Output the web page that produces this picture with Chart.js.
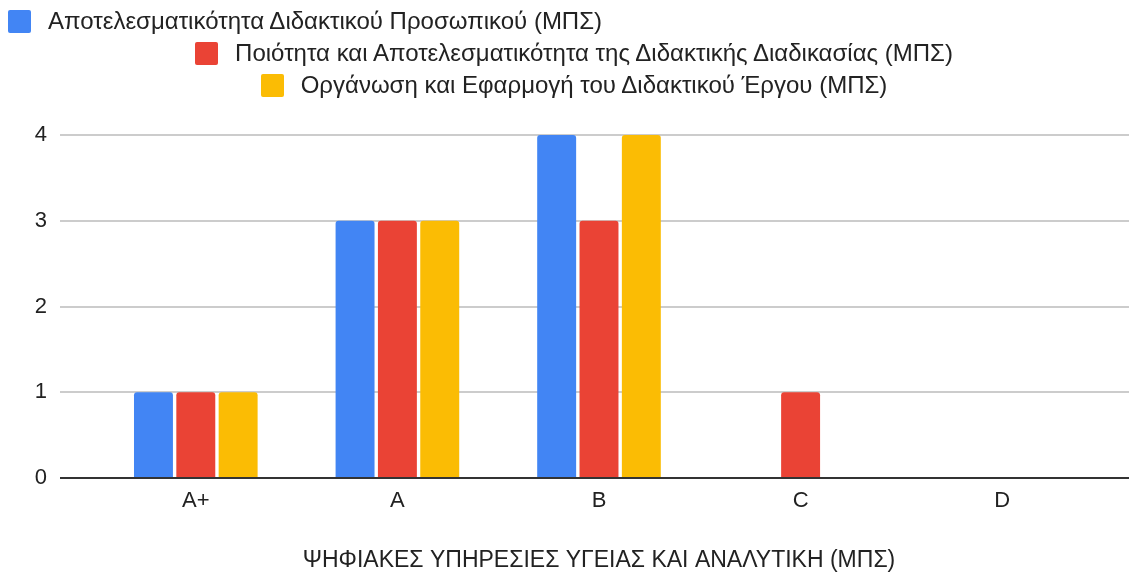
<!DOCTYPE html>
<html>
<head>
<meta charset="utf-8">
<script src="https://cdn.jsdelivr.net/npm/chart.js@4.4.1/dist/chart.umd.min.js"></script>
<style>
  html,body{margin:0;padding:0;background:#fff;}
  #wrap{position:relative;width:1129px;height:574px;overflow:hidden;}
  #chart{position:absolute;left:0;top:0;}
  #legend{position:absolute;left:0;top:0;padding-top:5px;width:1148px;font-family:"Liberation Sans",Arial,sans-serif;font-size:24px;color:#222;}
  .lg-row{height:32px;line-height:32px;white-space:nowrap;text-align:center;}
  .lg-row.first{text-align:left;padding-left:8px;}
  .lg-box{display:inline-block;width:23px;height:23px;border-radius:2px;vertical-align:-4px;margin-right:17px;}
</style>
</head>
<body>
<div id="wrap">
  <canvas id="chart" width="1129" height="574"></canvas>
  <div id="legend"></div>
</div>
<script>
/* ============ DATA ============ */
const categories = ['A+','A','B','C','D'];
const seriesNames = [
  'Αποτελεσματικότητα Διδακτικού Προσωπικού (ΜΠΣ)',
  'Ποιότητα και Αποτελεσματικότητα της Διδακτικής Διαδικασίας (ΜΠΣ)',
  'Οργάνωση και Εφαρμογή του Διδακτικού Έργου (ΜΠΣ)'
];
const staffValues   = [1,3,4,0,0];
const processValues = [1,3,3,1,0];
const workValues    = [1,3,4,0,0];
const yTicks = [0,1,2,3,4];
const xAxisTitle = 'ΨΗΦΙΑΚΕΣ ΥΠΗΡΕΣΙΕΣ ΥΓΕΙΑΣ ΚΑΙ ΑΝΑΛΥΤΙΚΗ (ΜΠΣ)';
const colors = ['#4285F4','#EA4335','#FBBC04'];

/* gridlines kéo dài ra ngoài chartArea như Google Sheets */
const wideGrid = {
  id:'wideGrid',
  beforeDatasetsDraw(chart){
    const {ctx, scales:{y}} = chart;
    ctx.save();
    y.ticks.forEach(t=>{
      if(t.value===0) return;
      const py = Math.round(y.getPixelForValue(t.value));
      ctx.strokeStyle='#cccccc'; ctx.lineWidth=2;
      ctx.beginPath(); ctx.moveTo(60,py); ctx.lineTo(chart.width,py); ctx.stroke();
    });
    ctx.restore();
  },
  afterDatasetsDraw(chart){
    const {ctx, scales:{y}} = chart;
    const py = Math.round(y.getPixelForValue(0));
    ctx.save();
    ctx.strokeStyle='#333333'; ctx.lineWidth=2;
    ctx.beginPath(); ctx.moveTo(60,py); ctx.lineTo(chart.width,py); ctx.stroke();
    ctx.restore();
  }
};

const tickFont  = {family:'"Liberation Sans", Arial, sans-serif', size:22};
const titleFont = {family:'"Liberation Sans", Arial, sans-serif', size:23};

const chart = new Chart(document.getElementById('chart').getContext('2d'), {
  type:'bar',
  data:{
    labels:categories,
    datasets:[staffValues, processValues, workValues].map((d,i)=>({
      label:seriesNames[i],
      data:d,
      backgroundColor:colors[i],
      borderWidth:0,
      borderRadius:3,
      categoryPercentage:0.63,
      barPercentage:0.92
    }))
  },
  options:{
    responsive:false,
    animation:false,
    layout:{ padding:{ top:135, right:26, bottom:0, left:0 } },
    plugins:{ legend:{display:false}, tooltip:{enabled:false} },
    scales:{
      x:{
        grid:{display:false, drawTicks:false},
        border:{display:false},
        ticks:{ color:'#222', font:tickFont, padding:10 },
        title:{ display:true, text:xAxisTitle, color:'#222', font:titleFont, padding:{top:0,bottom:0} },
        afterFit(s){ s.height = 96; }
      },
      y:{
        min:0, max:4,
        afterBuildTicks(s){ s.ticks = yTicks.map(v=>({value:v})); },
        grid:{display:false, drawTicks:false},
        border:{display:false},
        ticks:{ color:'#222', font:tickFont, padding:48 },
        afterFit(s){ s.width = 95; }
      }
    }
  },
  plugins:[wideGrid]
});

/* legend HTML từ datasets */
const lg = document.getElementById('legend');
chart.data.datasets.forEach((ds,i)=>{
  const row = document.createElement('div');
  row.className = 'lg-row' + (i===0 ? ' first' : '');
  row.innerHTML = `<span class="lg-box" style="background:${ds.backgroundColor}"></span>${ds.label}`;
  lg.appendChild(row);
});
</script>
</body>
</html>
